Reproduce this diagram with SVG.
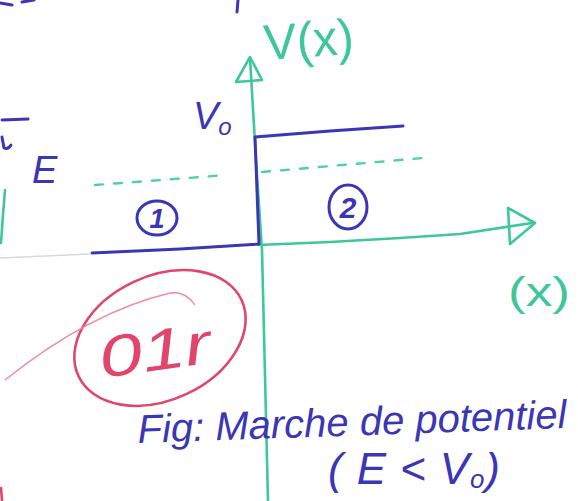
<svg xmlns="http://www.w3.org/2000/svg" width="578" height="501" viewBox="0 0 578 501">
<style>
.g{stroke:#3fc79c;fill:none;stroke-width:2.6;stroke-linecap:round;stroke-linejoin:round}
.b{stroke:#3b36b4;fill:none;stroke-width:3;stroke-linecap:round;stroke-linejoin:round}
.r{stroke:#e2456b;fill:none;stroke-width:2.6;stroke-linecap:round}
.dash{stroke:#4fd0a8;fill:none;stroke-width:2.4;stroke-dasharray:8 11;stroke-linecap:round}
.tb{fill:#3b36b4;font-family:"Liberation Sans",Arial,sans-serif;font-style:italic}
.tg{fill:#3fc79c;font-family:"Liberation Sans",Arial,sans-serif}
.tr{fill:#e2456b;font-family:"Liberation Sans",Arial,sans-serif;font-style:italic}
</style>
<rect width="578" height="501" fill="#ffffff"/>
<g id="connectors">
  <path class="g" d="M268,501 L262,250 L256,160 L250,58"/>
  <path class="g" d="M236,82 L250,57 L262,80 Z"/>
  <path class="g" d="M258,245 L330,242 L400,238 L460,234 L532,223"/>
  <path class="g" d="M508,208 L535,223 L510,244 Z"/>
</g>
<g id="potential-step">
  <path class="b" d="M92,253 L180,249 L259,244 L255,137 L330,131 L403,126"/>
</g>
<g id="energy-line">
  <path class="dash" d="M95,185 L227,175"/>
  <path class="dash" d="M262,172 L423,158"/>
</g>
<g id="label-Vx">
  <text class="tg" x="265" y="60" font-size="50" textLength="90" lengthAdjust="spacingAndGlyphs" transform="rotate(-4 265 60)">V(x)</text>
</g>
<g id="label-V0">
  <text class="tb" x="193" y="129" font-size="38">V<tspan font-size="24" dy="6">o</tspan></text>
</g>
<g id="label-E">
  <text class="tb" x="32" y="183" font-size="38">E</text>
</g>
<g id="region-1">
  <ellipse class="b" cx="157" cy="218" rx="20" ry="17" stroke-width="2.4"/>
  <text class="tb" x="157" y="228" font-size="27" font-weight="bold" text-anchor="middle">1</text>
</g>
<g id="region-2">
  <ellipse class="b" cx="348" cy="207" rx="19" ry="22" stroke-width="2.4"/>
  <text class="tb" x="348" y="218" font-size="30" font-weight="bold" text-anchor="middle">2</text>
</g>
<g id="label-x">
  <text class="tg" x="508" y="306" font-size="40" textLength="62" lengthAdjust="spacingAndGlyphs">(x)</text>
</g>
<g id="grade">
  <ellipse class="r" cx="160" cy="338" rx="90" ry="62" transform="rotate(-25 160 338)"/>
  <path d="M5,380 Q90,312 170,293 Q186,291 195,305" stroke="#ee8aa2" stroke-width="1.3" fill="none"/>
  <text class="tr" x="102" y="378" font-size="58" textLength="112" lengthAdjust="spacingAndGlyphs" transform="rotate(-8 102 378)">01r</text>
</g>
<g id="caption">
  <text class="tb" x="138" y="443" font-size="40" transform="rotate(-2 138 443)">Fig: Marche de potentiel</text>
  <text class="tb" x="328" y="484" font-size="44" textLength="172" lengthAdjust="spacing">( E &lt; V<tspan font-size="26" dy="4">o</tspan><tspan dy="-4">)</tspan></text>
</g>
<g id="margin-marks">
  <path class="b" d="M2,120 L28,119" stroke-width="2.4"/>
  <path class="b" d="M2,137 L4,148 Q8,150 11,145" stroke-width="2.4"/>
  <path class="b" d="M0,3 L12,5 M22,2 L34,0" stroke-width="2.4"/>
  <path class="b" d="M238,0 L237,12" stroke-width="2.4"/>
  <path class="g" d="M5,190 L3,215 L1,243"/>
  <path d="M0,258 L90,254" stroke="#d8d8e0" stroke-width="1.5" fill="none"/>
  <path class="r" d="M1,488 L2,501"/>
</g>
</svg>
